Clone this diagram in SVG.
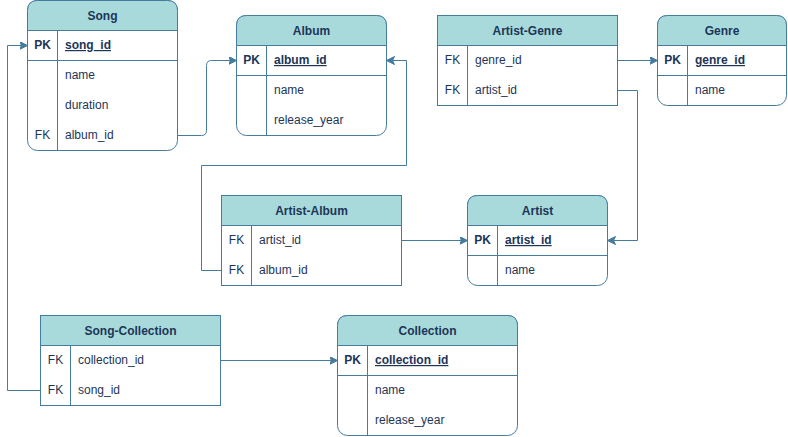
<svg xmlns="http://www.w3.org/2000/svg" width="788" height="437" viewBox="0 0 788 437">
<defs>
<style>
.box{fill:#ffffff;stroke:#457B9D;stroke-width:1}
.hd{fill:#A8DADC;stroke:#457B9D;stroke-width:1}
.ln{stroke:#457B9D;stroke-width:1;fill:none}
.t{font-family:"Liberation Sans",Arial,sans-serif;font-size:12px;fill:#1D3557}
.h{font-weight:bold;text-anchor:middle}
.k{text-anchor:middle}
.pk{font-weight:bold}
.u{font-weight:bold;text-decoration:underline}
.c{stroke:#457B9D;stroke-width:1;fill:none;marker-end:url(#arr)}
</style>
<marker id="arr" markerUnits="userSpaceOnUse" markerWidth="10" markerHeight="10" refX="8" refY="4" orient="auto">
<path d="M0,0 L8,4 L0,8 L2,4 Z" fill="#457B9D" stroke="#457B9D" stroke-width="1"/>
</marker>
</defs>

<g id="connectors">
<path class="c" d="M177.5,135.5 H201.5 Q206.5,135.5 206.5,130.5 V65.5 Q206.5,60.5 211.5,60.5 H236.5"/>
<path class="c" d="M221.5,270.5 H201.5 V165.5 H406.5 V60.5 H386.5"/>
<path class="c" d="M401.5,240.5 H467.5"/>
<path class="c" d="M617.5,60.5 H657.5"/>
<path class="c" d="M617.5,90.5 H637.5 V240.5 H607.5"/>
<path class="c" d="M220.5,360.5 H337.5"/>
<path class="c" d="M40.5,390.5 H7.5 V45.5 H27.5"/>
</g>

<g id="song">
<rect class="box" x="27.5" y="0.5" width="150" height="150" rx="10"/>
<path class="hd" d="M27.5,30.5 V10.5 Q27.5,0.5 37.5,0.5 H167.5 Q177.5,0.5 177.5,10.5 V30.5 Z"/>
<line class="ln" x1="27.5" y1="60.5" x2="177.5" y2="60.5"/>
<line class="ln" x1="57.5" y1="30.5" x2="57.5" y2="150.5"/>
<text class="t h" x="102.5" y="19.5">Song</text>
<text class="t k pk" x="42.5" y="49">PK</text>
<text class="t u" x="65" y="49">song_id</text>
<text class="t" x="65" y="79">name</text>
<text class="t" x="65" y="109">duration</text>
<text class="t k" x="42.5" y="139">FK</text>
<text class="t" x="65" y="139">album_id</text>
</g>

<g id="album">
<rect class="box" x="236.5" y="15.5" width="150" height="120" rx="10"/>
<path class="hd" d="M236.5,45.5 V25.5 Q236.5,15.5 246.5,15.5 H376.5 Q386.5,15.5 386.5,25.5 V45.5 Z"/>
<line class="ln" x1="236.5" y1="75.5" x2="386.5" y2="75.5"/>
<line class="ln" x1="266.5" y1="45.5" x2="266.5" y2="135.5"/>
<text class="t h" x="311.5" y="34.5">Album</text>
<text class="t k pk" x="251.5" y="64">PK</text>
<text class="t u" x="274" y="64">album_id</text>
<text class="t" x="274" y="94">name</text>
<text class="t" x="274" y="124">release_year</text>
</g>

<g id="artist-genre">
<rect class="box" x="437.5" y="15.5" width="180" height="90"/>
<rect class="hd" x="437.5" y="15.5" width="180" height="30"/>
<line class="ln" x1="467.5" y1="45.5" x2="467.5" y2="105.5"/>
<text class="t h" x="527.5" y="34.5">Artist-Genre</text>
<text class="t k" x="452.5" y="64">FK</text>
<text class="t" x="475" y="64">genre_id</text>
<text class="t k" x="452.5" y="94">FK</text>
<text class="t" x="475" y="94">artist_id</text>
</g>

<g id="genre">
<rect class="box" x="657.5" y="15.5" width="129" height="90" rx="10"/>
<path class="hd" d="M657.5,45.5 V25.5 Q657.5,15.5 667.5,15.5 H776.5 Q786.5,15.5 786.5,25.5 V45.5 Z"/>
<line class="ln" x1="657.5" y1="75.5" x2="786.5" y2="75.5"/>
<line class="ln" x1="687.5" y1="45.5" x2="687.5" y2="105.5"/>
<text class="t h" x="722" y="34.5">Genre</text>
<text class="t k pk" x="672.5" y="64">PK</text>
<text class="t u" x="695" y="64">genre_id</text>
<text class="t" x="695" y="94">name</text>
</g>

<g id="artist-album">
<rect class="box" x="221.5" y="195.5" width="180" height="90"/>
<rect class="hd" x="221.5" y="195.5" width="180" height="30"/>
<line class="ln" x1="251.5" y1="225.5" x2="251.5" y2="285.5"/>
<text class="t h" x="311.5" y="214.5">Artist-Album</text>
<text class="t k" x="236.5" y="244">FK</text>
<text class="t" x="259" y="244">artist_id</text>
<text class="t k" x="236.5" y="274">FK</text>
<text class="t" x="259" y="274">album_id</text>
</g>

<g id="artist">
<rect class="box" x="467.5" y="195.5" width="140" height="90" rx="10"/>
<path class="hd" d="M467.5,225.5 V205.5 Q467.5,195.5 477.5,195.5 H597.5 Q607.5,195.5 607.5,205.5 V225.5 Z"/>
<line class="ln" x1="467.5" y1="255.5" x2="607.5" y2="255.5"/>
<line class="ln" x1="497.5" y1="225.5" x2="497.5" y2="285.5"/>
<text class="t h" x="537.5" y="214.5">Artist</text>
<text class="t k pk" x="482.5" y="244">PK</text>
<text class="t u" x="505" y="244">artist_id</text>
<text class="t" x="505" y="274">name</text>
</g>

<g id="song-collection">
<rect class="box" x="40.5" y="315.5" width="180" height="90"/>
<rect class="hd" x="40.5" y="315.5" width="180" height="30"/>
<line class="ln" x1="70.5" y1="345.5" x2="70.5" y2="405.5"/>
<text class="t h" x="130.5" y="334.5">Song-Collection</text>
<text class="t k" x="55.5" y="364">FK</text>
<text class="t" x="78" y="364">collection_id</text>
<text class="t k" x="55.5" y="394">FK</text>
<text class="t" x="78" y="394">song_id</text>
</g>

<g id="collection">
<rect class="box" x="337.5" y="315.5" width="180" height="120" rx="10"/>
<path class="hd" d="M337.5,345.5 V325.5 Q337.5,315.5 347.5,315.5 H507.5 Q517.5,315.5 517.5,325.5 V345.5 Z"/>
<line class="ln" x1="337.5" y1="375.5" x2="517.5" y2="375.5"/>
<line class="ln" x1="367.5" y1="345.5" x2="367.5" y2="435.5"/>
<text class="t h" x="427.5" y="334.5">Collection</text>
<text class="t k pk" x="352.5" y="364">PK</text>
<text class="t u" x="375" y="364">collection_id</text>
<text class="t" x="375" y="394">name</text>
<text class="t" x="375" y="424">release_year</text>
</g>
</svg>
